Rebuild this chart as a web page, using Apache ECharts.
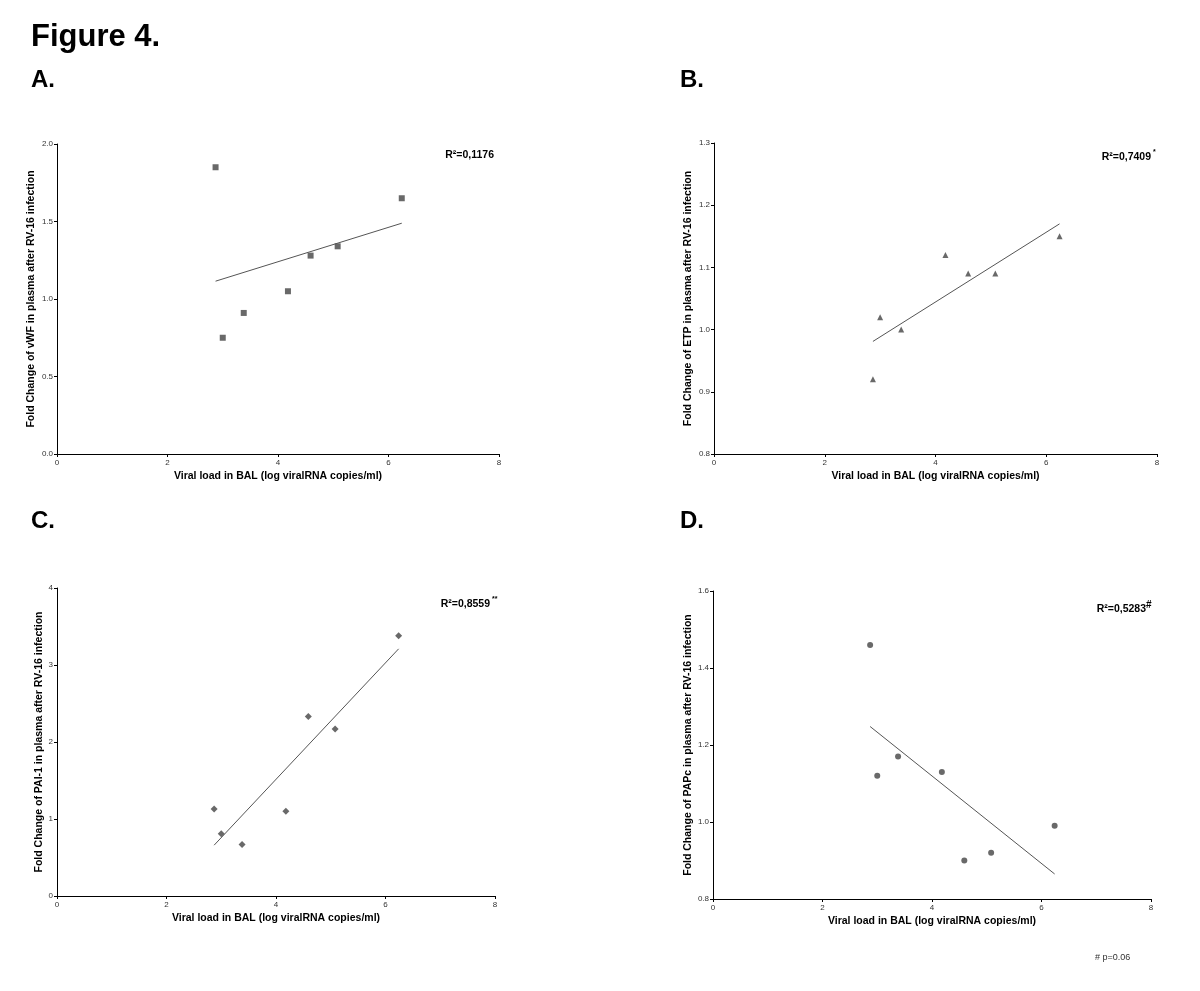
<!DOCTYPE html>
<html>
<head>
<meta charset="utf-8">
<script src="https://cdn.jsdelivr.net/npm/echarts@6/dist/echarts.min.js"></script>
<style>
html,body{margin:0;padding:0;background:#fff;}
#chart{width:1200px;height:991px;}
</style>
</head>
<body>
<div id="chart"></div>
<script>
// ---- Data ----
const viralLoad = [2.87, 3.00, 3.38, 4.18, 4.59, 5.08, 6.24];
const vwf  = [1.85, 0.75, 0.91, 1.05, 1.28, 1.34, 1.65];
const etp  = [0.92, 1.02, 1.00, 1.12, 1.09, 1.09, 1.15];
const pai1 = [1.13, 0.81, 0.67, 1.10, 2.33, 2.17, 3.38];
const papc = [1.46, 1.12, 1.17, 1.13, 0.90, 0.92, 0.99];

// regression line endpoints (x range and fitted y values)
const fitX    = [2.87, 6.24];
const fitVwf  = [1.115, 1.489];
const fitEtp  = [0.981, 1.170];
const fitPai1 = [0.66, 3.21];
const fitPapc = [1.248, 0.865];

// tick values
const xTicks  = [0, 2, 4, 6, 8];
const yTicksA = [0.0, 0.5, 1.0, 1.5, 2.0];
const yTicksB = [0.8, 0.9, 1.0, 1.1, 1.2, 1.3];
const yTicksC = [0, 1, 2, 3, 4];
const yTicksD = [0.8, 1.0, 1.2, 1.4, 1.6];

const r2Labels = ['R²=0,1176', 'R²=0,7409', 'R²=0,8559', 'R²=0,5283'];
const r2Marks  = ['', '*', '**', '#'];
const panelLetters = ['A.', 'B.', 'C.', 'D.'];
const yNames = [
  'Fold Change of vWF in plasma after RV-16 infection',
  'Fold Change of ETP in plasma after RV-16 infection',
  'Fold Change of PAI-1 in plasma after RV-16 infection',
  'Fold Change of PAPc in plasma after RV-16 infection'
];
const xName = 'Viral load in BAL (log viralRNA copies/ml)';

// ---- Build ----
const FONT = '"Liberation Sans", Arial, Helvetica, sans-serif';
const INK = '#000';
const MARK = '#444';

const grids = [
  {left: 57,  top: 144, width: 442, height: 310},
  {left: 714, top: 143, width: 443, height: 311},
  {left: 57,  top: 588, width: 438, height: 308},
  {left: 713, top: 591, width: 438, height: 308}
];
const yTickSets = [yTicksA, yTicksB, yTicksC, yTicksD];
const yDecimals = [1, 1, 0, 1];
const yNameGaps = [20, 20, 12, 19];
const series = [vwf, etp, pai1, papc];
const fits = [fitVwf, fitEtp, fitPai1, fitPapc];
const symbols = ['rect', 'triangle', 'diamond', 'circle'];
const symSizes = [6, 6, 7, 6];

const xAxes = [], yAxes = [], seriesList = [];
grids.forEach((g, i) => {
  xAxes.push({
    type: 'value', gridIndex: i,
    min: xTicks[0], max: xTicks[xTicks.length - 1],
    interval: xTicks[1] - xTicks[0],
    name: xName, nameLocation: 'middle', nameGap: 17,
    nameTextStyle: {fontFamily: FONT, fontWeight: 'bold', fontSize: 10.5, color: INK},
    axisLine: {show: true, lineStyle: {color: INK, width: 1}},
    axisTick: {show: true, length: 3, lineStyle: {color: INK}},
    axisLabel: {fontFamily: FONT, fontSize: 8, color: '#333', margin: 5},
    splitLine: {show: false}
  });
  const yt = yTickSets[i];
  const dec = yDecimals[i];
  yAxes.push({
    type: 'value', gridIndex: i,
    min: yt[0], max: yt[yt.length - 1],
    interval: +(yt[1] - yt[0]).toFixed(3),
    name: yNames[i], nameLocation: 'middle', nameGap: yNameGaps[i],
    nameTextStyle: {fontFamily: FONT, fontWeight: 'bold', fontSize: 10.5, color: INK},
    axisLine: {show: true, lineStyle: {color: INK, width: 1}},
    axisTick: {show: true, length: 3, lineStyle: {color: INK}},
    axisLabel: {fontFamily: FONT, fontSize: 8, color: '#333', margin: 4,
      formatter: v => Number(v).toFixed(dec)},
    splitLine: {show: false}
  });
  seriesList.push({
    type: 'scatter', xAxisIndex: i, yAxisIndex: i,
    symbol: symbols[i], symbolSize: symSizes[i],
    itemStyle: {color: MARK},
    data: viralLoad.map((x, k) => [x, series[i][k]]),
    silent: true
  });
  seriesList.push({
    type: 'line', xAxisIndex: i, yAxisIndex: i,
    showSymbol: false, symbol: 'none',
    lineStyle: {color: '#555', width: 1},
    data: fitX.map((x, k) => [x, fits[i][k]]),
    silent: true
  });
});

const r2Pos = [
  {x: 494, y: 155, sx: 0, sy: 0},
  {x: 1151, y: 157, sx: 1153, sy: 152},
  {x: 490, y: 604, sx: 492, sy: 599},
  {x: 1146, y: 609, sx: 1146, sy: 605}
];
const letterPos = [[31, 80], [680, 80], [31, 521], [680, 521]];

const graphics = [
  {type: 'text', x: 31, y: 37, style: {text: 'Figure 4.', font: 'bold 31px ' + FONT, fill: INK, textVerticalAlign: 'middle'}},
  {type: 'text', x: 1095, y: 958, style: {text: '# p=0.06', font: '9px ' + FONT, fill: '#333', textVerticalAlign: 'middle'}}
];
panelLetters.forEach((t, i) => {
  graphics.push({type: 'text', x: letterPos[i][0], y: letterPos[i][1],
    style: {text: t, font: 'bold 24px ' + FONT, fill: INK, textVerticalAlign: 'middle'}});
});
r2Labels.forEach((t, i) => {
  const p = r2Pos[i];
  graphics.push({type: 'text', x: p.x, y: p.y,
    style: {text: t, font: 'bold 10.5px ' + FONT, fill: INK, textAlign: 'right', textVerticalAlign: 'middle'}});
  if (r2Marks[i]) {
    graphics.push({type: 'text', x: p.sx, y: p.sy,
      style: {text: r2Marks[i], font: 'bold ' + (r2Marks[i] === '#' ? 10 : 7) + 'px ' + FONT, fill: INK, textAlign: 'left', textVerticalAlign: 'middle'}});
  }
});

const chart = echarts.init(document.getElementById('chart'), null, {renderer: 'canvas'});
chart.setOption({
  animation: false,
  backgroundColor: '#fff',
  grid: grids.map(g => Object.assign({containLabel: false}, g)),
  xAxis: xAxes,
  yAxis: yAxes,
  series: seriesList,
  graphic: graphics
});
</script>
</body>
</html>
